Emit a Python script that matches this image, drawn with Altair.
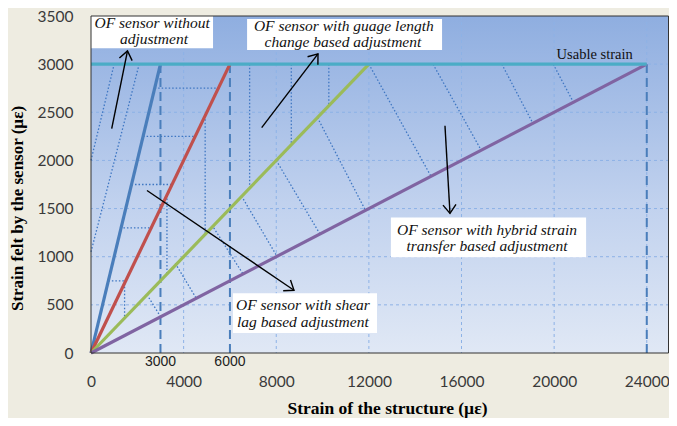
import math
import altair as alt
import pandas as pd

W, H = 578, 337
XMAX, YMAX = 24960, 3500

# ---- main series (strain of structure -> strain felt by sensor) ----
series_names = ["OF sensor without adjustment", "gauge length", "shear lag", "hybrid"]
series_end_x = [3000, 6000, 12000, 24000]
series_end_y = [3000, 3000, 3000, 3000]
series_colors = ["#4A7EBB", "#C0504D", "#9BBB59", "#8064A2"]

usable_strain = [3000]
usable_x_end = [24000]
dashed_x = [3000, 6000, 24000]
dashed_top = [3000, 3000, 3000]

x_ticks = [0, 4000, 8000, 12000, 16000, 20000, 24000]
y_ticks = [0, 500, 1000, 1500, 2000, 2500, 3000, 3500]
x_grid = [4000, 8000, 12000, 16000, 20000, 24000]
y_grid = [500, 1000, 1500, 2000, 2500, 3000]
extra_x_labels = [3000, 6000]

# ---- decorative dotted segments (data units) ----
dot_x1 = [0, 0, 2750, 2250, 1750, 1250, 750, 1450, 3280, 4930, 6850, 8650, 10270,
          2420, 3640, 5300, 6500, 8000, 9780, 12000, 14770, 17740, 19960]
dot_y1 = [2000, 1050, 2750, 2250, 1750, 1300, 750, 725, 1640, 2465, 3000, 3000, 3000,
          605, 930, 1300, 1630, 2000, 2445, 3000, 3000, 3000, 3000]
dot_x2 = [1000, 2080, 5500, 4500, 3500, 2650, 1500, 1450, 3280, 4930, 6850, 8650, 10270,
          3000, 4540, 6560, 8030, 9880, 11850, 14680, 16850, 19080, 20830]
dot_y2 = [3000, 3000, 2750, 2250, 1750, 1300, 750, 362, 820, 1232, 1712, 2162, 2567,
          378, 570, 822, 1005, 1238, 1482, 1836, 2106, 2386, 2605]

# ---- annotation boxes / texts / arrows (data units) ----
box_x1 = [0, 6740, 12950, 6130]
box_x2 = [5270, 15160, 21380, 12350]
box_y1 = [3165, 3148, 994, 207]
box_y2 = [3500, 3470, 1408, 621]

ann_text = ["OF sensor without", "adjustment",
            "OF sensor with guage length", "change based adjustment",
            "OF sensor with hybrid strain", "transfer based adjustment",
            "OF sensor with shear", "lag based adjustment"]
ann_x = [2640, 2720, 10920, 10880, 17100, 17100, 9150, 9150]
ann_y = [3430, 3262, 3398, 3230, 1282, 1110, 500, 326]

arrow_x1 = [894, 7371, 15286, 2418]
arrow_y1 = [2330, 2340, 2361, 1688]
arrow_x2 = [1576, 9802, 15502, 8766]
arrow_y2 = [3138, 3107, 1450, 652]

usable_label = ["Usable strain"]
usable_label_x = [21750]
usable_label_y = [3096]

# ---------------- build tables ----------------
rows = []
for n, ex, ey in zip(series_names, series_end_x, series_end_y):
    rows.append({"s": n, "x": 0, "y": 0, "o": 0})
    rows.append({"s": n, "x": ex, "y": ey, "o": 1})
lines_df = pd.DataFrame(rows)

sx = W / XMAX
sy = H / YMAX
angles = []
for a, b, c, d in zip(arrow_x1, arrow_y1, arrow_x2, arrow_y2):
    dx = (c - a) * sx
    dy = -(d - b) * sy
    angles.append(math.degrees(math.atan2(dx, -dy)) % 360)
arrows_df = pd.DataFrame({"x": arrow_x1, "y": arrow_y1, "x2": arrow_x2, "y2": arrow_y2, "ang": angles})

dots_df = pd.DataFrame({"x": dot_x1, "y": dot_y1, "x2": dot_x2, "y2": dot_y2})
boxes_df = pd.DataFrame({"x": box_x1, "x2": box_x2, "y": box_y1, "y2": box_y2})
ann_df = pd.DataFrame({"t": ann_text, "x": ann_x, "y": ann_y})
dash_df = pd.DataFrame({"x": dashed_x, "y": [0] * len(dashed_x), "y2": dashed_top})
usable_df = pd.DataFrame({"x": [0], "x2": usable_x_end, "y": usable_strain})
xgrid_df = pd.DataFrame({"x": x_grid})
ygrid_df = pd.DataFrame({"y": y_grid})
extra_df = pd.DataFrame({"x": extra_x_labels, "t": [str(v) for v in extra_x_labels]})
ulab_df = pd.DataFrame({"t": usable_label, "x": usable_label_x, "y": usable_label_y})

xscale = alt.Scale(domain=[0, XMAX], nice=False, zero=False, padding=0)
yscale = alt.Scale(domain=[0, YMAX], nice=False, zero=False, padding=0)

xaxis = alt.Axis(values=x_ticks, format="d", grid=False, ticks=False, domain=False,
                 labelFont="Lato", labelFontSize=15.5, labelColor="#3a3a3a",
                 labelPadding=21, labelFlush=False, labelOverlap=False,
                 title="Strain of the structure (µε)", titleFont="Liberation Serif",
                 titleFontSize=17.5, titleFontWeight="bold", titleColor="#000000",
                 titleX=296, titleY=55, titleAlign="center", titleBaseline="middle")
yaxis = alt.Axis(values=y_ticks, format="d", grid=False, ticks=False, domain=False,
                 labelFont="Lato", labelFontSize=15.5, labelColor="#3a3a3a",
                 labelPadding=18, labelOverlap=False,
                 title="Strain felt by the  sensor (µε)", titleFont="Liberation Serif",
                 titleFontSize=17, titleFontWeight="bold", titleColor="#000000",
                 titleX=-74, titleY=192, titleAngle=270, titleAlign="center",
                 titleBaseline="middle")


def X(f="x"):
    return alt.X(f"{f}:Q", scale=xscale, axis=xaxis)


def Y(f="y"):
    return alt.Y(f"{f}:Q", scale=yscale, axis=yaxis)


grad = alt.Gradient(gradient="linear", x1=0, y1=0, x2=0, y2=1,
                    stops=[alt.GradientStop(color="#8FAEE0", offset=0),
                           alt.GradientStop(color="#C0D1EE", offset=0.55),
                           alt.GradientStop(color="#E0E8F5", offset=1)])

bg = alt.Chart(alt.Data(values=[{"a": 1}])).mark_rect(color=grad).encode(
    x=alt.value(0), x2=alt.value(W), y=alt.value(0), y2=alt.value(H))

gx = alt.Chart(xgrid_df).mark_rule(color="#8DB2E6", strokeDash=[3, 3], strokeWidth=1).encode(x=X())
gy = alt.Chart(ygrid_df).mark_rule(color="#8DB2E6", strokeDash=[3, 3], strokeWidth=1).encode(y=Y())

dots = alt.Chart(dots_df).mark_rule(color="#3E76C2", strokeDash=[1.5, 2], strokeWidth=1.3).encode(
    x=X(), y=Y(), x2="x2:Q", y2="y2:Q")

dashes = alt.Chart(dash_df).mark_rule(color="#4A7EBB", strokeDash=[9, 5], strokeWidth=2).encode(
    x=X(), y=Y(), y2="y2:Q")

lines = alt.Chart(lines_df).mark_line(strokeWidth=3.2).encode(
    x=X(), y=Y(), order="o:Q",
    color=alt.Color("s:N", scale=alt.Scale(domain=series_names, range=series_colors), legend=None))

usable = alt.Chart(usable_df).mark_rule(color="#4BACC6", strokeWidth=3.2).encode(
    x=X(), x2="x2:Q", y=Y())

boxes = alt.Chart(boxes_df).mark_rect(color="white").encode(x=X(), x2="x2:Q", y=Y(), y2="y2:Q")

texts = alt.Chart(ann_df).mark_text(font="Liberation Serif", fontStyle="italic", fontSize=15.5,
                                    color="#111111", align="center", baseline="middle").encode(
    x=X(), y=Y(), text="t:N")

ulab = alt.Chart(ulab_df).mark_text(font="Liberation Serif", fontSize=14.5, color="#111111",
                                    align="center", baseline="middle").encode(
    x=X(), y=Y(), text="t:N")

arr_lines = alt.Chart(arrows_df).mark_rule(color="black", strokeWidth=1.4).encode(
    x=X(), y=Y(), x2="x2:Q", y2="y2:Q")
arr_heads = alt.Chart(arrows_df).mark_point(shape="M -0.75 1 L 0 0 L 0.75 1", filled=False,
                                            color="black", strokeWidth=1.4, size=300, opacity=1).encode(
    x=X("x2"), y=Y("y2"), angle=alt.Angle("ang:Q", scale=None))

extra = alt.Chart(extra_df).mark_text(font="Liberation Sans Narrow, Liberation Sans", fontSize=14,
                                      color="#222222", align="center", baseline="middle").encode(
    x=X(), y=alt.value(H + 9), text="t:N")

border = alt.Chart(alt.Data(values=[{"a": 1}])).mark_rect(fill=None, fillOpacity=0, stroke="#333333",
                                                          strokeWidth=1).encode(
    x=alt.value(0), x2=alt.value(W - 0.5), y=alt.value(0), y2=alt.value(H))

# total chart: 661 x 410 so that the page (8px margins) does not overflow the window
chart = alt.layer(bg, gx, gy, dots, dashes, lines, usable, boxes, texts, ulab,
                  arr_lines, arr_heads, extra, border).properties(
    width=W, height=H,
    autosize=alt.AutoSizeParams(type="none"),
    padding={"left": 83, "top": 8, "right": 0, "bottom": 65},
    background="#EEECE1",
).configure_view(stroke=None)

chart.save("out.html", embed_options={"renderer": "svg", "actions": False})
